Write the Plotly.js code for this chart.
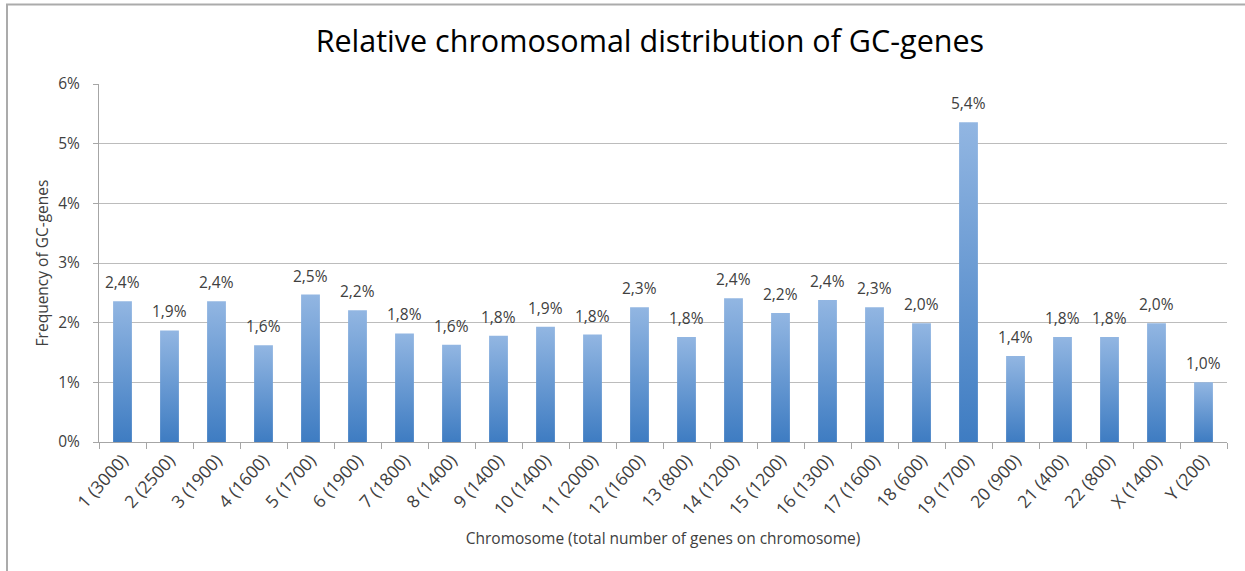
<!DOCTYPE html>
<html>
<head>
<meta charset="utf-8">
<script src="https://cdn.plot.ly/plotly-3.0.1.min.js"></script>
<style>
  html, body { margin: 0; padding: 0; background: #fff; overflow: hidden; }
  #chart { width: 1245px; height: 571px; }
  svg.frame { position: absolute; left: 0; top: 0; pointer-events: none; z-index: 10; }
</style>
</head>
<body>
<div id="chart"></div>
<svg class="frame" width="1245" height="571">
  <polyline points="7,571 7,4.5 1245,4.5" fill="none" stroke="#ababab" stroke-width="2"/>
</svg>
<script>
const categories = ["1 (3000)", "2 (2500)", "3 (1900)", "4 (1600)", "5 (1700)", "6 (1900)",
  "7 (1800)", "8 (1400)", "9 (1400)", "10 (1400)", "11 (2000)", "12 (1600)", "13 (800)",
  "14 (1200)", "15 (1200)", "16 (1300)", "17 (1600)", "18 (600)", "19 (1700)", "20 (900)",
  "21 (400)", "22 (800)", "X (1400)", "Y (200)"];
const frequencies = [2.36, 1.87, 2.36, 1.62, 2.47, 2.21, 1.82, 1.63, 1.78, 1.93, 1.80, 2.26,
  1.76, 2.41, 2.16, 2.38, 2.26, 1.99, 5.36, 1.44, 1.76, 1.76, 1.99, 1.00];
const yMax = 6;
const yStep = 1;

const fontFamily = "Open Sans, sans-serif";
const textColor = "#404040";

const fmt = v => v.toFixed(1).replace(".", ",") + "%";

const annotations = categories.map((c, i) => ({
  x: c, y: frequencies[i], xref: "x", yref: "y",
  text: fmt(frequencies[i]), showarrow: false,
  yanchor: "bottom", yshift: 6,
  font: { family: fontFamily, size: 15.5, color: textColor }
}));

const trace = {
  type: "bar",
  x: categories,
  y: frequencies,
  marker: { color: "#5f93d0", line: { width: 0 } },
  hoverinfo: "x+y"
};

const layout = {
  width: 1245, height: 571,
  margin: { l: 99, r: 18, t: 84, b: 129 },
  paper_bgcolor: "#fff", plot_bgcolor: "#fff",
  bargap: 0.6,
  showlegend: false,
  title: {
    text: "Relative chromosomal distribution of GC-genes",
    x: 0.522, xanchor: "center", y: 0.928, yanchor: "middle",
    font: { family: fontFamily, size: 30.5, color: "#000" }
  },
  xaxis: {
    type: "category",
    tickangle: -48,
    tickson: "boundaries",
    ticks: "outside", ticklen: 6, tickcolor: "#a6a6a6", tickwidth: 1,
    showline: true, linecolor: "#a6a6a6", linewidth: 1,
    showgrid: false,
    tickfont: { family: fontFamily, size: 17.5, color: textColor },
    title: { text: "Chromosome (total number of genes on chromosome)", standoff: 14,
             font: { family: fontFamily, size: 15.5, color: textColor } },
    fixedrange: true
  },
  yaxis: {
    range: [0, yMax],
    tickmode: "linear", tick0: 0, dtick: yStep,
    ticksuffix: "%",
    ticks: "outside", ticklen: 5, tickcolor: "#a6a6a6",
    ticklabelstandoff: 10,
    showline: true, linecolor: "#a6a6a6", linewidth: 1,
    showgrid: true, gridcolor: "#bcbcbc", gridwidth: 1,
    zeroline: false,
    tickfont: { family: fontFamily, size: 15.5, color: textColor },
    title: { text: "Frequency of GC-genes", standoff: 5,
             font: { family: fontFamily, size: 15.5, color: textColor } },
    fixedrange: true
  },
  annotations: annotations
};

function applyGradient() {
  const svg = document.querySelector("#chart svg.main-svg");
  if (!svg) return;
  const ns = "http://www.w3.org/2000/svg";
  let defs = svg.querySelector("defs");
  if (!defs) { defs = document.createElementNS(ns, "defs"); svg.insertBefore(defs, svg.firstChild); }
  if (!document.getElementById("barGrad")) {
    const g = document.createElementNS(ns, "linearGradient");
    g.setAttribute("id", "barGrad");
    g.setAttribute("x1", "0"); g.setAttribute("y1", "0");
    g.setAttribute("x2", "0"); g.setAttribute("y2", "1");
    const s1 = document.createElementNS(ns, "stop");
    s1.setAttribute("offset", "0"); s1.setAttribute("stop-color", "#92b6e2");
    const s2 = document.createElementNS(ns, "stop");
    s2.setAttribute("offset", "1"); s2.setAttribute("stop-color", "#3e7cc2");
    g.appendChild(s1); g.appendChild(s2); defs.appendChild(g);
  }
  document.querySelectorAll("#chart .bars .point path").forEach(p => {
    p.style.fill = "url(#barGrad)";
  });
}

Plotly.newPlot("chart", [trace], layout, { displayModeBar: false, staticPlot: true })
  .then(applyGradient);
</script>
</body>
</html>
